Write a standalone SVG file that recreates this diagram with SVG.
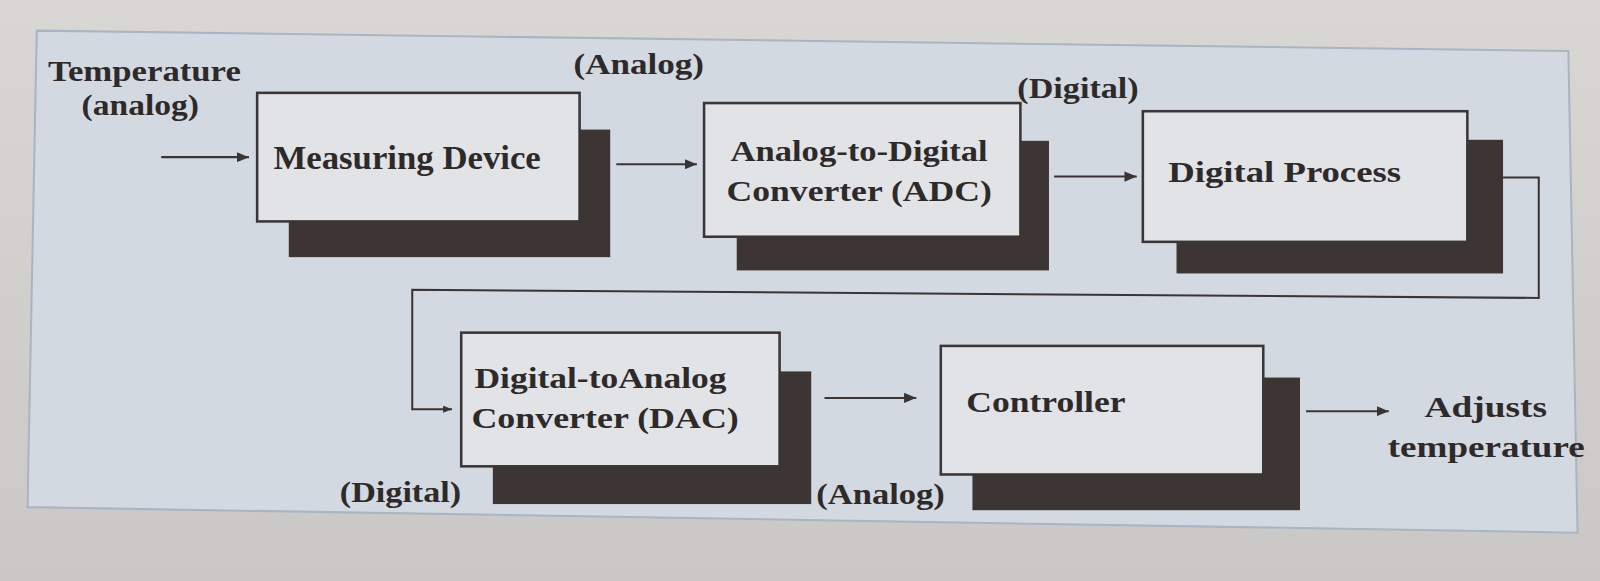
<svg xmlns="http://www.w3.org/2000/svg" width="1600" height="581" viewBox="0 0 1600 581">
<defs>
<marker id="ah" viewBox="0 0 12 10" refX="12" refY="5" markerWidth="12" markerHeight="10" markerUnits="userSpaceOnUse" orient="auto">
<path d="M0,0 L12,5 L0,10 z" fill="#3a3535"/>
</marker>
<marker id="ahs" viewBox="0 0 10 8" refX="10" refY="4" markerWidth="9" markerHeight="7" markerUnits="userSpaceOnUse" orient="auto">
<path d="M0,0 L10,4 L0,8 z" fill="#3a3535"/>
</marker>
<linearGradient id="bg" x1="0" y1="0" x2="0" y2="1">
<stop offset="0" stop-color="#d9d7d3"/>
<stop offset="1" stop-color="#c9c8c6"/>
</linearGradient>
</defs>
<style>
text{font-family:"Liberation Serif","Times New Roman",serif;font-weight:bold;fill:#2f2a2a}
.front{fill:#e1e3e7;stroke:#3a3636;stroke-width:2.5}
.shadow{fill:#3d3533}
.conn{fill:none;stroke:#3a3535;stroke-width:2}
</style>
<rect x="0" y="0" width="1600" height="581" fill="url(#bg)"/>
<g transform="scale(1.0204)">
<polygon points="36,30 1537,50 1546,522 27,497" fill="#d3d9e1" stroke="#a9b5c3" stroke-width="2"/>

<g id="measuring-device">
<rect class="shadow" x="283" y="127" width="315" height="125"/>
<rect class="front" x="252" y="91" width="316" height="126"/>
<text x="268" y="166" font-size="34" textLength="262" lengthAdjust="spacingAndGlyphs">Measuring Device</text>
</g>

<g id="adc">
<rect class="shadow" x="722" y="138" width="306" height="127"/>
<rect class="front" x="690" y="101" width="310" height="131"/>
<text x="716" y="158" font-size="29" textLength="252" lengthAdjust="spacingAndGlyphs">Analog-to-Digital</text>
<text x="712" y="197" font-size="29" textLength="260" lengthAdjust="spacingAndGlyphs">Converter (ADC)</text>
</g>

<g id="digital-process">
<rect class="shadow" x="1153" y="137" width="320" height="131"/>
<rect class="front" x="1120" y="109" width="318" height="128"/>
<text x="1145" y="178" font-size="29" textLength="228" lengthAdjust="spacingAndGlyphs">Digital Process</text>
</g>

<g id="dac">
<rect class="shadow" x="483" y="364" width="312" height="130"/>
<rect class="front" x="452" y="326" width="312" height="131"/>
<text x="465" y="380" font-size="29" textLength="247" lengthAdjust="spacingAndGlyphs">Digital-toAnalog</text>
<text x="462" y="419" font-size="29" textLength="262" lengthAdjust="spacingAndGlyphs">Converter (DAC)</text>
</g>

<g id="controller">
<rect class="shadow" x="953" y="370" width="321" height="130"/>
<rect class="front" x="922" y="339" width="316" height="126"/>
<text x="947" y="404" font-size="29" textLength="156" lengthAdjust="spacingAndGlyphs">Controller</text>
</g>

<g id="labels">
<text x="47" y="79" font-size="29" textLength="189" lengthAdjust="spacingAndGlyphs">Temperature</text>
<text x="80" y="113" font-size="29" textLength="115" lengthAdjust="spacingAndGlyphs">(analog)</text>
<text x="562" y="73" font-size="29" textLength="128" lengthAdjust="spacingAndGlyphs">(Analog)</text>
<text x="997" y="96" font-size="29" textLength="119" lengthAdjust="spacingAndGlyphs">(Digital)</text>
<text x="333" y="492" font-size="29" textLength="119" lengthAdjust="spacingAndGlyphs">(Digital)</text>
<text x="800" y="494" font-size="29" textLength="126" lengthAdjust="spacingAndGlyphs">(Analog)</text>
<text x="1396" y="409" font-size="29" textLength="120" lengthAdjust="spacingAndGlyphs">Adjusts</text>
<text x="1360" y="448" font-size="29" textLength="193" lengthAdjust="spacingAndGlyphs">temperature</text>
</g>

<g id="connectors">
<line class="conn" x1="158" y1="154" x2="244" y2="154" marker-end="url(#ah)"/>
<line class="conn" x1="604" y1="161" x2="683" y2="161" marker-end="url(#ah)"/>
<line class="conn" x1="1033" y1="173" x2="1114" y2="173" marker-end="url(#ah)"/>
<polyline class="conn" points="1473,174 1508,174 1508,292 404,284 404,401 443,401" marker-end="url(#ahs)"/>
<line class="conn" x1="808" y1="390" x2="898" y2="390" marker-end="url(#ah)"/>
<line class="conn" x1="1280" y1="403" x2="1361" y2="403" marker-end="url(#ah)"/>
</g>
</g>
</svg>
